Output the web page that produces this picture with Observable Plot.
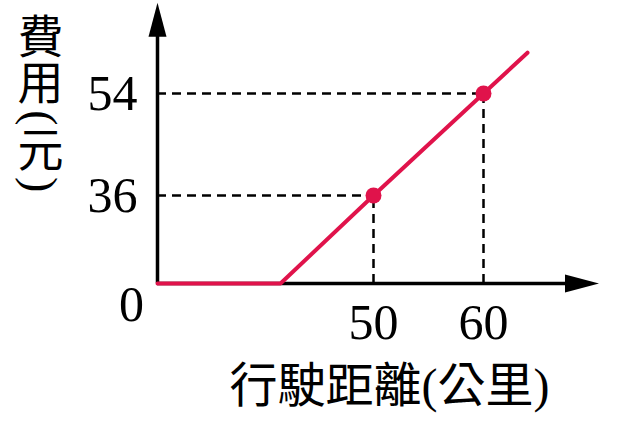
<!DOCTYPE html>
<html><head><meta charset="utf-8">
<script src="https://cdn.jsdelivr.net/npm/d3@7"></script>
<script src="https://cdn.jsdelivr.net/npm/@observablehq/plot@0.6"></script>
<style>
html,body{margin:0;padding:0;background:#fff;}
</style>
</head><body><div id="chart"></div>
<script>
// Data
const distance = [0, 30, 50, 60, 64];
const cost = [0, 0, 36, 54, 61.2];
const markedDistance = [50, 60];
const markedCost = [36, 54];
const xTickLabels = ["50", "60"];
const yTickLabels = ["36", "54"];
const originLabel = "0";
const xLabel = "行駛距離(公里)";
const yLabel = "費用(元)";
const xAxisEnd = 70.5;
const yAxisEnd = 70;

const lineData = distance.map((d, i) => ({distance: d, cost: cost[i]}));
const marked = markedDistance.map((d, i) => ({distance: d, cost: markedCost[i]}));

const red = "#e0134b";
const serif = "'Liberation Serif', 'Times New Roman', 'Noto Sans CJK TC', serif";
const arrowHead = {draw(ctx) { ctx.moveTo(0, 0); ctx.lineTo(9, 34); ctx.lineTo(-9, 34); ctx.closePath(); }};

// vertical y label: stack characters, rotate parentheses as in vertical writing
const yFont = 46;
const yChars = Array.from(yLabel);
let cursor = 15;
const yLabelMarks = yChars.map(ch => {
  const isParen = ch === "(" || ch === ")";
  const adv = (isParen ? 0.45 : 1) * yFont;
  const center = cursor + adv / 2;
  cursor += adv;
  return Plot.text([ch], {
    frameAnchor: "top-left", dx: isParen ? 39 : 40, dy: center, text: d => d,
    fontSize: yFont, textAnchor: "middle", lineAnchor: "middle", rotate: isParen ? 90 : 0
  });
});

const chart = Plot.plot({
  width: 620, height: 440, margin: 0,
  style: {background: "#fff", fontFamily: serif, color: "#000"},
  x: {type: "linear", domain: [0, 30, 50, 60, xAxisEnd], range: [157, 280, 373, 483, 598.5], axis: null},
  y: {type: "linear", domain: [0, 36, 54, yAxisEnd], range: [283, 195, 93, 2.3], axis: null},
  marks: [
    Plot.ruleY(marked, {y: "cost", x1: 0, x2: "distance", stroke: "#000", strokeWidth: 2.5, strokeDasharray: "9,6"}),
    Plot.ruleX(marked, {x: "distance", y1: 0, y2: "cost", stroke: "#000", strokeWidth: 2.5, strokeDasharray: "9,6"}),
    Plot.ruleX([0], {y1: 0, y2: yAxisEnd - 4, stroke: "#000", strokeWidth: 3.5}),
    Plot.ruleY([0], {x1: 0, x2: xAxisEnd - 2, stroke: "#000", strokeWidth: 3.5}),
    Plot.dot([{x: 0, y: yAxisEnd}], {x: "x", y: "y", symbol: arrowHead, r: 5, fill: "#000", stroke: null}),
    Plot.dot([{x: xAxisEnd, y: 0}], {x: "x", y: "y", symbol: arrowHead, r: 5, fill: "#000", stroke: null, rotate: 90}),
    Plot.line(lineData, {x: "distance", y: "cost", stroke: red, strokeWidth: 4, strokeLinejoin: "miter"}),
    Plot.dot(marked, {x: "distance", y: "cost", r: 8, fill: red, stroke: null}),
    Plot.text(markedCost, {x: 0, y: d => d, text: (d, i) => yTickLabels[i], dx: -20, textAnchor: "end", fontSize: 50}),
    Plot.text(markedDistance, {x: d => d, y: 0, text: (d, i) => xTickLabels[i], dy: 39, fontSize: 50}),
    Plot.text([originLabel], {x: 0, y: 0, text: d => d, dx: -26, dy: 21, fontSize: 50}),
    Plot.text([xLabel], {frameAnchor: "top-left", dx: 389, dy: 386, text: d => d, fontSize: 48, textAnchor: "middle", lineAnchor: "middle"}),
    ...yLabelMarks
  ]
});

document.getElementById("chart").appendChild(chart);
</script>
</body></html>
